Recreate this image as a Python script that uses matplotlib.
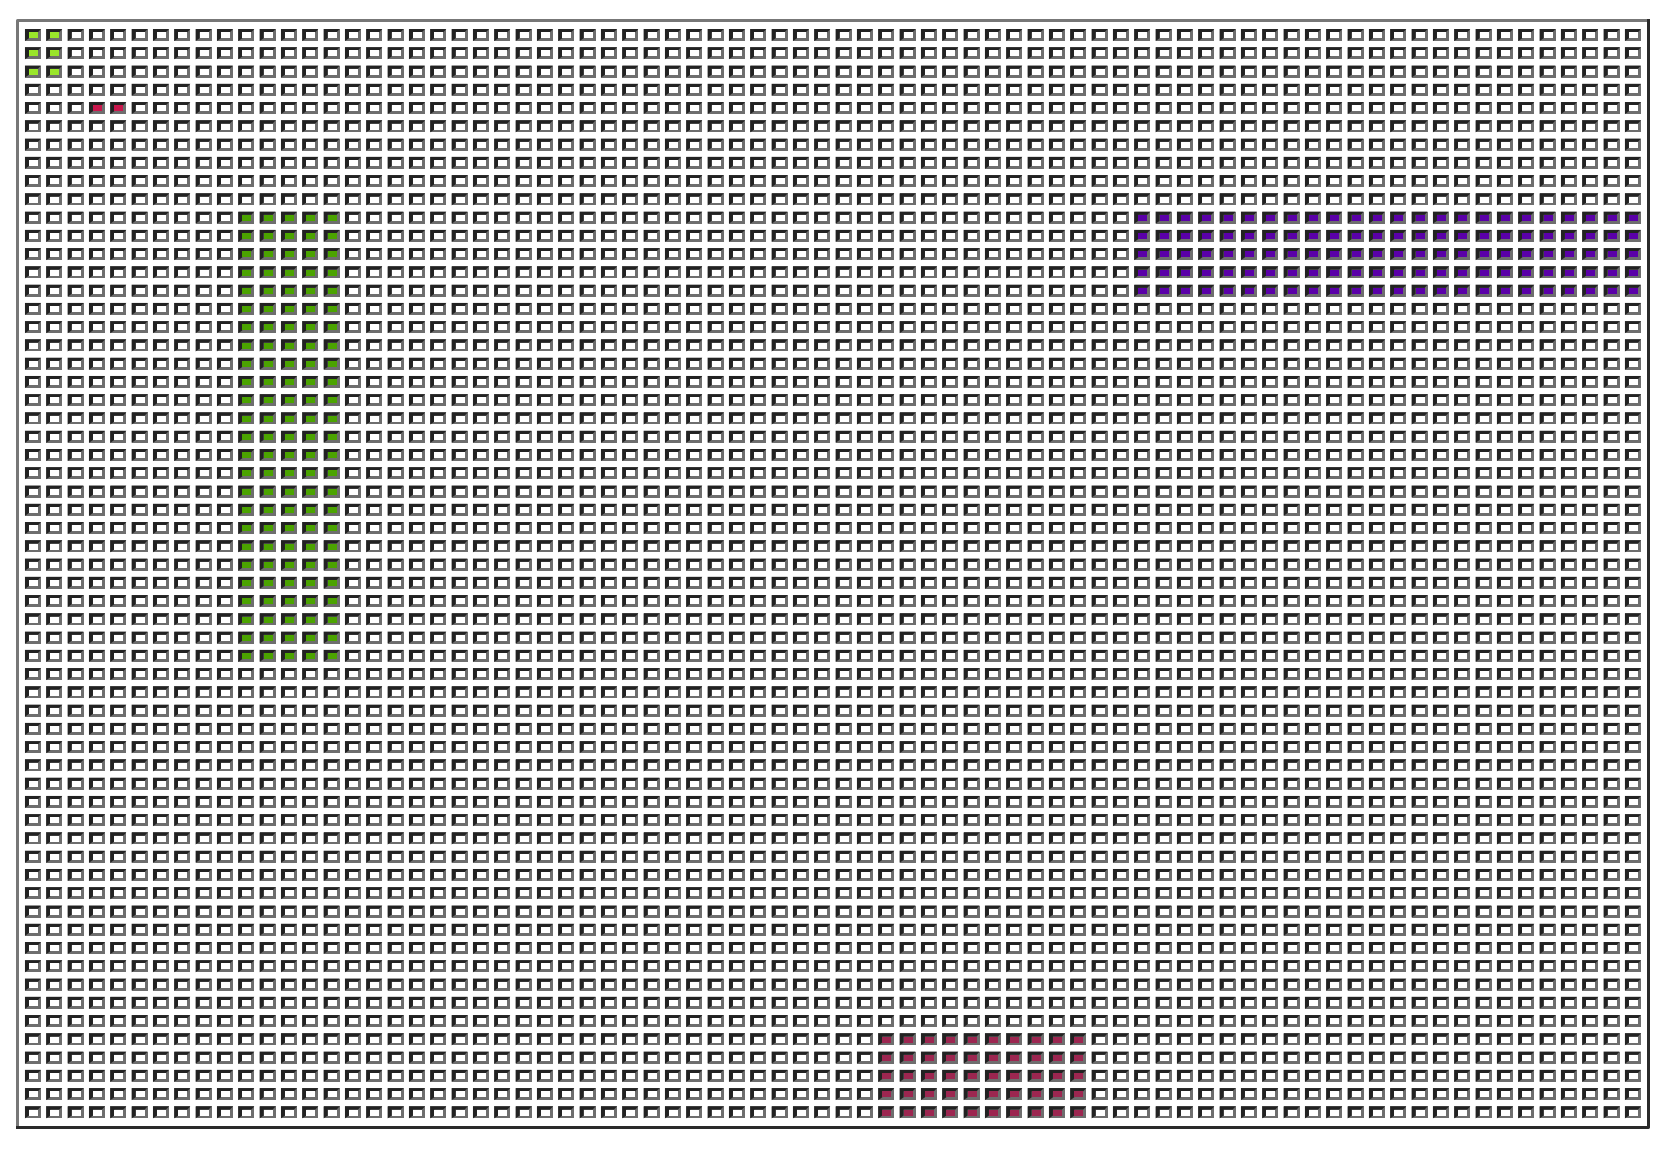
import matplotlib
matplotlib.use("Agg")
import matplotlib.pyplot as plt
from matplotlib.collections import PolyCollection
import numpy as np

# Grid dimensions
n_cols = 76
n_rows = 60

# Highlighted blocks: name, colour, first column, first row, number of columns, number of rows
block_names = ["A", "B", "C", "D", "E"]
block_colors = ["#9ae62a", "#c8174c", "#4ba300", "#5a00a8", "#9c2650"]
block_col0 = [0, 3, 10, 52, 40]
block_row0 = [0, 4, 10, 10, 55]
block_ncols = [2, 2, 5, 24, 10]
block_nrows = [3, 1, 25, 5, 5]

W, H = 1666, 1150
fig = plt.figure(figsize=(W / 100, H / 100), dpi=100)
fig.patch.set_facecolor("white")

# grid area in pixels
gx0, gx1 = 22.3, 1643.6
gy0, gy1 = 25.9, 1121.5
ax = fig.add_axes([gx0 / W, 1 - gy1 / H, (gx1 - gx0) / W, (gy1 - gy0) / H])
ax.set_xlim(0, n_cols)
ax.set_ylim(n_rows, 0)
ax.axis("off")

px_x = (gx1 - gx0) / n_cols
px_y = (gy1 - gy0) / n_rows

# colour map for every cell
fill = np.full((n_rows, n_cols), "#ffffff", dtype=object)
for c, c0, r0, nc, nr in zip(block_colors, block_col0, block_row0, block_ncols, block_nrows):
    fill[r0:r0 + nr, c0:c0 + nc] = c

hw = 8.0 / px_x      # half outer width
hh = 6.0 / px_y      # half outer height
bl = 4.0 / px_x      # left border
br = 3.0 / px_x      # right border
bt = 3.2 / px_y      # top border
bb = 2.8 / px_y      # bottom border

outer, dark, inner, colors = [], [], [], []
for r in range(n_rows):
    for c in range(n_cols):
        cx, cy = c + 0.5, r + 0.5
        x0, x1 = cx - hw, cx + hw
        y0, y1 = cy - hh, cy + hh   # y0 = top (inverted axis)
        outer.append([(x0, y0), (x1, y0), (x1, y1), (x0, y1)])
        dark.append([(x0, y0), (x1, y0), (x1 - br, y0 + bt), (x0 + bl, y0 + bt),
                     (x0 + bl, y1 - bb), (x0, y1)])
        inner.append([(x0 + bl, y0 + bt), (x1 - br, y0 + bt), (x1 - br, y1 - bb), (x0 + bl, y1 - bb)])
        colors.append(fill[r, c])

ax.add_collection(PolyCollection(outer, facecolors="#6e6e6e", edgecolors="none"))
ax.add_collection(PolyCollection(dark, facecolors="#222222", edgecolors="none"))
ax.add_collection(PolyCollection(inner, facecolors=colors, edgecolors="none"))

# outer frame
lw = 3 * 72 / 100
fax = fig.add_axes([0, 0, 1, 1])
fax.set_xlim(0, W)
fax.set_ylim(H, 0)
fax.axis("off")
fax.patch.set_alpha(0)
fx0, fx1, fy0, fy1 = 17.5, 1648.5, 19.5, 1126.5
fax.plot([fx0, fx0, fx1], [fy1, fy0, fy0], color="#777777", lw=lw, solid_capstyle="projecting")
fax.plot([fx0, fx1, fx1], [fy1, fy1, fy0], color="#2a2a2a", lw=lw, solid_capstyle="projecting")

fig.savefig("out.png", dpi=100, facecolor="white")
